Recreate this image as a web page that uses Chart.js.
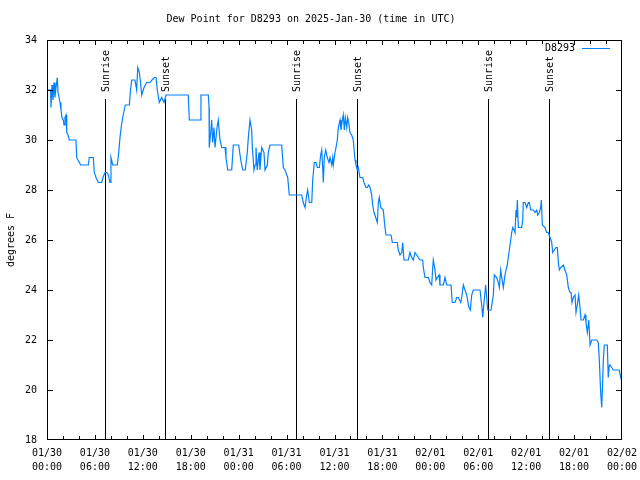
<!DOCTYPE html>
<html>
<head>
<meta charset="utf-8">
<script src="https://cdn.jsdelivr.net/npm/chart.js@4/dist/chart.umd.min.js"></script>
<style>
  html, body { margin: 0; padding: 0; background: #fff; }
  canvas { display: block; }
</style>
</head>
<body>
<canvas id="dewChart" width="640" height="480"></canvas>
<script>
// hours since 01/30 00:00 UTC
const hours = [
  0, 0.46, 0.50, 0.63, 0.75, 0.88, 1.00, 1.13, 1.29, 1.38,
  1.63, 1.75, 1.88, 2.04, 2.13, 2.25, 2.38, 2.47, 2.63, 2.79,
  3.63, 3.72, 3.88, 4.22, 5.17, 5.30, 5.80, 5.92, 6.14, 6.42,
  6.85, 7.01, 7.26, 7.51, 7.68, 7.89, 8.01, 8.23, 8.80, 8.98,
  9.14, 9.33, 9.48, 9.80, 10.31, 10.46, 10.61, 11.02, 11.23, 11.36,
  11.56, 11.71, 11.86, 12.15, 12.48, 12.90, 13.15, 13.44, 13.65, 13.81,
  14.06, 14.36, 14.65, 14.90, 17.69, 17.82, 19.16, 19.28, 20.20, 20.29,
  20.32, 20.50, 20.62, 20.75, 20.91, 21.04, 21.29, 21.45, 21.66, 21.88,
  22.29, 22.41, 22.63, 23.13, 23.33, 24.00, 24.26, 24.51, 24.83, 25.08,
  25.21, 25.42, 25.63, 25.71, 25.92, 26.05, 26.17, 26.33, 26.55, 26.67,
  26.88, 27.17, 27.30, 27.59, 27.71, 27.92, 29.39, 29.59, 29.80, 30.14,
  30.34, 31.89, 32.09, 32.31, 32.52, 32.64, 32.85, 33.15, 33.27, 33.47,
  33.68, 33.85, 34.10, 34.27, 34.40, 34.52, 34.60, 34.72, 34.90, 35.10,
  35.31, 35.44, 35.65, 35.78, 35.85, 36.06, 36.19, 36.35, 36.48, 36.69,
  36.81, 36.98, 37.10, 37.23, 37.35, 37.53, 37.65, 37.78, 37.94, 38.15,
  38.35, 38.57, 38.69, 38.86, 38.98, 39.19, 39.53, 39.69, 39.95, 40.11,
  40.28, 40.45, 40.66, 40.78, 40.95, 41.16, 41.36, 41.49, 41.61, 41.79,
  42.11, 42.32, 42.45, 43.08, 43.24, 43.86, 43.99, 44.20, 44.42, 44.54,
  44.70, 45.24, 45.45, 45.67, 45.87, 46.08, 46.29, 46.49, 46.71, 47.04,
  47.12, 47.33, 47.75, 47.96, 48.17, 48.30, 48.37, 48.59, 48.71, 48.87,
  49.09, 49.21, 49.63, 49.84, 50.05, 50.59, 50.75, 51.09, 51.30, 51.50,
  51.80, 51.93, 52.13, 52.34, 52.55, 52.84, 53.01, 53.18, 53.38, 54.22,
  54.43, 54.56, 54.72, 54.93, 55.06, 55.18, 55.60, 55.89, 56.01, 56.31,
  56.51, 56.64, 56.81, 56.94, 57.14, 57.35, 57.48, 57.64, 57.76, 57.98,
  58.19, 58.32, 58.48, 58.60, 58.73, 58.82, 58.89, 59.02, 59.44, 59.57,
  59.64, 59.86, 60.07, 60.27, 60.39, 60.57, 60.89, 61.11, 61.32, 61.44,
  61.65, 61.82, 61.90, 62.02, 62.36, 62.57, 62.77, 62.99, 63.20, 63.32,
  63.52, 63.74, 63.90, 64.03, 64.15, 64.33, 64.65, 64.86, 65.08, 65.28,
  65.49, 65.62, 65.74, 65.90, 66.12, 66.24, 66.40, 66.58, 66.74, 66.87,
  67.16, 67.37, 67.49, 67.66, 67.84, 68.00, 68.21, 68.41, 68.83, 69.03,
  69.16, 69.33, 69.46, 69.58, 69.66, 69.78, 70.16, 70.28, 70.41, 70.50,
  70.71, 70.92, 71.66, 71.84, 72.0
];

// dew point, degrees F
const dewPoint = [
  32.0, 32.0, 31.3, 32.2, 31.6, 32.3, 31.7, 32.1, 32.5, 31.9,
  31.5, 31.2, 30.9, 30.8, 30.6, 30.9, 31.0, 30.3, 30.2, 30.0,
  30.0, 29.3, 29.2, 29.0, 29.0, 29.3, 29.3, 28.7, 28.5, 28.3,
  28.3, 28.5, 28.7, 28.7, 28.6, 28.3, 29.3, 29.0, 29.0, 29.5,
  30.1, 30.6, 30.9, 31.4, 31.4, 32.0, 32.4, 32.4, 32.0, 32.9,
  32.7, 32.3, 31.8, 32.1, 32.3, 32.3, 32.4, 32.5, 32.5, 32.0,
  31.5, 31.7, 31.5, 31.8, 31.8, 30.8, 30.8, 31.8, 31.8, 31.3,
  29.7, 30.3, 30.8, 29.9, 30.5, 29.7, 30.5, 30.8, 30.0, 29.7,
  29.7, 29.3, 28.8, 28.8, 29.8, 29.8, 29.2, 28.8, 28.8, 29.5,
  30.1, 30.8, 30.4, 29.7, 28.8, 29.0, 29.7, 28.8, 29.5, 28.8,
  29.7, 29.5, 28.8, 29.0, 29.5, 29.8, 29.8, 28.9, 28.8, 28.5,
  27.8, 27.8, 27.5, 27.3, 27.8, 28.0, 27.5, 27.5, 28.4, 29.1,
  29.1, 28.9, 28.9, 29.4, 29.6, 28.9, 28.3, 29.3, 29.6, 29.3,
  29.1, 29.3, 29.0, 29.3, 29.0, 29.5, 29.7, 30.0, 30.5, 30.8,
  30.4, 30.8, 31.0, 30.4, 30.9, 30.5, 30.9, 30.7, 30.3, 30.2,
  30.0, 29.2, 29.0, 28.8, 28.9, 28.5, 28.5, 28.3, 28.1, 28.1,
  28.2, 28.1, 27.8, 27.4, 27.1, 26.9, 26.7, 27.5, 27.7, 27.3,
  27.2, 26.5, 26.2, 26.2, 25.9, 25.9, 25.6, 25.4, 25.5, 25.9,
  25.2, 25.2, 25.5, 25.3, 25.2, 25.5, 25.4, 25.3, 25.2, 25.2,
  24.9, 24.5, 24.5, 24.3, 24.2, 24.9, 25.2, 24.8, 24.4, 24.5,
  24.6, 24.2, 24.2, 24.5, 24.2, 24.2, 23.5, 23.5, 23.7, 23.7,
  23.5, 23.7, 24.2, 24.0, 23.8, 23.3, 23.2, 23.8, 24.0, 24.0,
  23.4, 22.9, 23.5, 24.2, 23.7, 23.2, 23.2, 23.8, 24.6, 24.5,
  24.3, 24.1, 24.8, 24.5, 24.1, 24.6, 24.8, 25.0, 25.3, 25.8,
  26.3, 26.5, 26.4, 26.3, 27.2, 26.9, 27.6, 26.5, 26.5, 26.8,
  27.5, 27.5, 27.3, 27.5, 27.5, 27.2, 27.2, 27.1, 27.2, 27.0,
  27.1, 27.3, 27.6, 26.6, 26.5, 26.3, 26.3, 26.1, 25.9, 25.5,
  25.6, 25.7, 25.7, 25.1, 24.8, 24.9, 25.0, 24.8, 24.6, 24.1,
  23.9, 23.9, 23.5, 23.7, 23.8, 23.1, 23.4, 23.8, 23.3, 22.8,
  22.8, 23.0, 22.7, 22.3, 22.8, 21.8, 22.0, 22.0, 22.0, 21.9,
  21.2, 19.9, 19.3, 20.3, 21.2, 21.8, 21.8, 20.5, 21.0, 21.0,
  20.9, 20.8, 20.8, 20.5, 20.7
];

const tickDates = ['01/30', '01/30', '01/30', '01/30', '01/31', '01/31', '01/31', '01/31', '02/01', '02/01', '02/01', '02/01', '02/02'];
const tickTimes = ['00:00', '06:00', '12:00', '18:00', '00:00', '06:00', '12:00', '18:00', '00:00', '06:00', '12:00', '18:00', '00:00'];

const sunHours = [7.30, 14.81, 31.22, 38.86, 55.26, 62.90];
const sunLabels = ['Sunrise', 'Sunset', 'Sunrise', 'Sunset', 'Sunrise', 'Sunset'];

const FONT = "'DejaVu Sans Mono', monospace";
const lineColor = '#0080ff';

// border + inward ticks on all four sides, gnuplot style
const frame = {
  id: 'frame',
  afterDraw(chart) {
    const { ctx, chartArea: a, scales: { x, y } } = chart;
    ctx.save();
    ctx.strokeStyle = '#000';
    ctx.lineWidth = 1;
    ctx.strokeRect(a.left + 0.5, a.top + 0.5, a.right - a.left - 1, a.bottom - a.top - 1);
    ctx.beginPath();
    for (let v = 20; v < 34; v += 2) {
      const py = Math.round(y.getPixelForValue(v)) + 0.5;
      ctx.moveTo(a.left, py); ctx.lineTo(a.left + 6, py);
      ctx.moveTo(a.right, py); ctx.lineTo(a.right - 6, py);
    }
    for (let h = 2; h < 72; h += 2) {
      const px = Math.round(x.getPixelForValue(h)) + 0.5;
      const len = h % 6 === 0 ? 5 : 4;
      ctx.moveTo(px, a.bottom); ctx.lineTo(px, a.bottom - len);
      ctx.moveTo(px, a.top); ctx.lineTo(px, a.top + len);
    }
    ctx.stroke();

    // legend
    ctx.fillStyle = '#000';
    ctx.font = '10px ' + FONT;
    ctx.textAlign = 'right';
    ctx.textBaseline = 'middle';
    ctx.fillText('D8293', 575, 48);
    ctx.strokeStyle = lineColor;
    ctx.beginPath();
    ctx.moveTo(582, 48.5); ctx.lineTo(610, 48.5);
    ctx.stroke();
    ctx.restore();
  }
};

// sunrise / sunset markers
const sunMarks = {
  id: 'sunMarks',
  beforeDatasetsDraw(chart) {
    const { ctx, chartArea: a, scales: { x } } = chart;
    ctx.save();
    ctx.strokeStyle = '#000';
    ctx.lineWidth = 1;
    ctx.fillStyle = '#000';
    ctx.font = '10px ' + FONT;
    sunHours.forEach((h, i) => {
      const px = Math.round(x.getPixelForValue(h)) + 0.5;
      ctx.beginPath();
      ctx.moveTo(px, 99); ctx.lineTo(px, a.bottom);
      ctx.stroke();
      ctx.save();
      ctx.translate(px + 1, 92);
      ctx.rotate(-Math.PI / 2);
      ctx.textAlign = 'left';
      ctx.textBaseline = 'middle';
      ctx.fillText(sunLabels[i], 0, 0);
      ctx.restore();
    });
    ctx.restore();
  }
};

new Chart(document.getElementById('dewChart'), {
  type: 'line',
  data: {
    datasets: [{
      label: 'D8293',
      data: hours.map((h, i) => ({ x: h, y: dewPoint[i] })),
      borderColor: lineColor,
      borderWidth: 1.2,
      pointRadius: 0,
      tension: 0,
      fill: false
    }]
  },
  options: {
    responsive: false,
    devicePixelRatio: 1,
    animation: false,
    layout: { padding: { left: 0, right: 18, top: 0, bottom: 0 } },
    plugins: {
      legend: { display: false },
      tooltip: { enabled: false },
      title: {
        display: true,
        text: 'Dew Point for D8293 on 2025-Jan-30 (time in UTC)',
        color: '#000',
        font: { family: FONT, size: 10, weight: 'normal', lineHeight: 1.2 },
        padding: { top: 13, bottom: 15 }
      }
    },
    scales: {
      x: {
        type: 'linear',
        min: 0,
        max: 72,
        grid: { display: false, drawTicks: false },
        border: { display: false },
        afterFit: s => { s.height = 40; s.paddingLeft = 0; s.paddingRight = 0; },
        ticks: {
          stepSize: 6,
          autoSkip: false,
          maxRotation: 0,
          padding: 6,
          color: '#000',
          font: { family: FONT, size: 10, lineHeight: 1.4 },
          callback: v => [tickDates[v / 6], tickTimes[v / 6]]
        }
      },
      y: {
        min: 18,
        max: 34,
        grid: { display: false, drawTicks: false },
        border: { display: false },
        afterFit: s => { s.width = 47; },
        title: {
          display: true,
          text: 'degrees F',
          color: '#000',
          font: { family: FONT, size: 10, lineHeight: 1.2 },
          padding: { top: 5, bottom: 0 }
        },
        ticks: {
          stepSize: 2,
          padding: 10,
          color: '#000',
          font: { family: FONT, size: 10 }
        }
      }
    }
  },
  plugins: [sunMarks, frame]
});
</script>
</body>
</html>
